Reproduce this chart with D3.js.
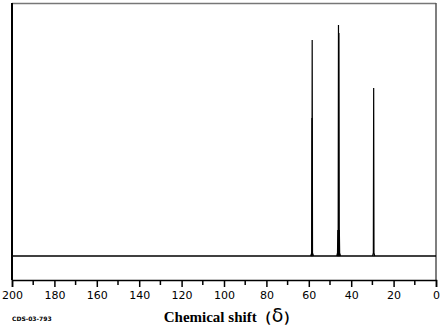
<!DOCTYPE html>
<html>
<head>
<meta charset="utf-8">
<script src="https://cdn.jsdelivr.net/npm/d3@7/dist/d3.min.js"></script>
<style>
  body { margin: 0; background: #fff; }
</style>
</head>
<body>
<div class="spectrum"></div>
<script>
// peak list: chemical shift (ppm) and relative intensity
var shifts = [58.5, 58.4, 46.3, 46.0, 45.8, 45.6, 29.4];
var intensities = [54.5, 85.4, 10.3, 91.3, 88.1, 10.3, 66.4];
var tickValues = [200, 180, 160, 140, 120, 100, 80, 60, 40, 20, 0];
var minorTicks = [190, 170, 150, 130, 110, 90, 70, 50, 30, 10];

var peaks = shifts.map(function(s, i) { return {shift: s, h: intensities[i]}; });

var width = 442, height = 327;
var margin = {top: 3, left: 12, right: 6, bottom: 47};

var svg = d3.select(".spectrum")
    .append("svg")
    .attr("width", width)
    .attr("height", height);

var xScale = d3.scaleLinear()
    .domain([200, 0])
    .range([margin.left, width - margin.right]);

var axisY = height - margin.bottom;  // 280

var yScale = d3.scaleLinear()
    .domain([0, 100])
    .range([256, margin.top]);

// frame
svg.append("line")
    .attr("x1", margin.left).attr("x2", width - margin.right)
    .attr("y1", margin.top + 0.5).attr("y2", margin.top + 0.5)
    .attr("stroke", "#777").attr("stroke-width", 1.5);
svg.append("line")
    .attr("x1", margin.left).attr("x2", margin.left)
    .attr("y1", margin.top).attr("y2", axisY)
    .attr("stroke", "#000").attr("stroke-width", 2);
svg.append("line")
    .attr("x1", width - margin.right).attr("x2", width - margin.right)
    .attr("y1", margin.top).attr("y2", axisY)
    .attr("stroke", "#555").attr("stroke-width", 1.5);

// x axis
var axis = svg.append("g")
    .attr("transform", `translate(0,${axisY})`)
    .call(d3.axisBottom(xScale).tickValues(tickValues).tickSize(7).tickPadding(4).tickFormat(d3.format("d")));
axis.select(".domain").attr("stroke-width", 1.5);
axis.selectAll(".tick line").attr("stroke-width", 1.5);
axis.selectAll("text")
    .style("font-family", "DejaVu Sans")
    .style("font-size", "11px")
    .attr("fill", "#000");

svg.append("g")
    .selectAll("line")
    .data(minorTicks)
    .enter()
    .append("line")
    .attr("x1", function(d) { return xScale(d); })
    .attr("x2", function(d) { return xScale(d); })
    .attr("y1", axisY)
    .attr("y2", axisY + 5)
    .attr("stroke", "#000")
    .attr("stroke-width", 1.5);

// baseline of the spectrum
svg.append("line")
    .attr("x1", xScale(200)).attr("x2", xScale(0))
    .attr("y1", yScale(0)).attr("y2", yScale(0))
    .attr("stroke", "#000").attr("stroke-width", 1.3);

// peaks
var line = d3.line()
    .x(function(d) { return xScale(d[0]); })
    .y(function(d) { return yScale(d[1]); });

svg.selectAll(".peak")
    .data(peaks)
    .enter()
    .append("path")
    .attr("class", "peak")
    .attr("d", function(d) {
        return line([[d.shift + 0.5, 0], [d.shift + 0.15, 1.2], [d.shift, d.h], [d.shift - 0.15, 1.2], [d.shift - 0.5, 0]]);
    })
    .attr("fill", "none")
    .attr("stroke", "#000")
    .attr("stroke-width", 1.2);

// labels
var title = svg.append("text")
    .attr("x", 231)
    .attr("y", 322)
    .attr("text-anchor", "middle")
    .style("font-family", "Liberation Serif")
    .style("font-weight", "bold")
    .style("font-size", "15px");
title.append("tspan").text("Chemical shift\uFF08");
title.append("tspan")
    .style("font-family", "DejaVu Sans")
    .style("font-weight", "normal")
    .style("font-size", "19px")
    .text("\u03B4");
title.append("tspan").text("\uFF09");

svg.append("text")
    .attr("x", 12)
    .attr("y", 321)
    .style("font-family", "DejaVu Sans")
    .style("font-weight", "bold")
    .style("font-size", "6px")
    .text("CDS-03-793");
</script>
</body>
</html>
